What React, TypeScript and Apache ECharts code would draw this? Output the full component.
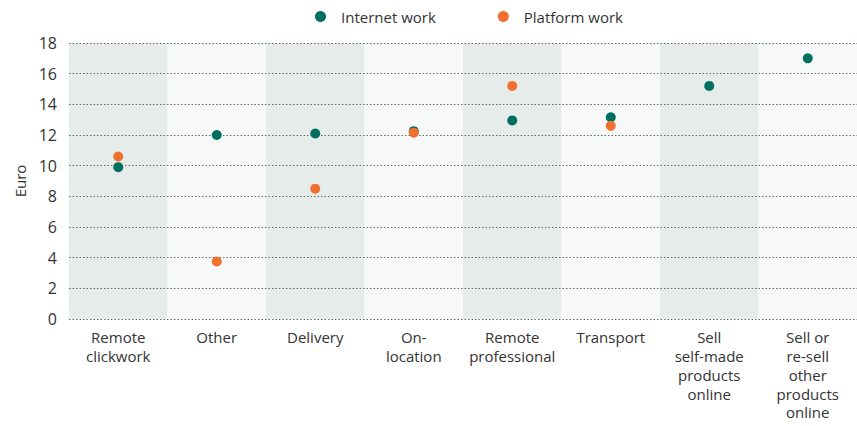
import React, { useEffect, useRef } from "react";
import * as echarts from "echarts";

const categories = [
  "Remote\nclickwork",
  "Other",
  "Delivery",
  "On-\nlocation",
  "Remote\nprofessional",
  "Transport",
  "Sell\nself-made\nproducts\nonline",
  "Sell or\nre-sell\nother\nproducts\nonline",
];
const internetWork = [9.9, 12.0, 12.1, 12.25, 12.95, 13.15, 15.2, 17.0];
const platformWork: (number | null)[] = [10.6, 3.75, 8.5, 12.15, 15.2, 12.6, null, null];
const yTicks = { min: 0, max: 18, interval: 2 };

const FONT = "'Open Sans', 'Noto Sans', sans-serif";

export default function App() {
  const ref = useRef<HTMLDivElement>(null);
  useEffect(() => {
    if (!ref.current) return;
    const chart = echarts.init(ref.current, undefined, { renderer: "svg" });
    chart.setOption({
      animation: false,
      textStyle: { fontFamily: FONT },
      legend: {
        top: 4,
        left: 310,
        itemGap: 62,
        itemWidth: 11,
        itemHeight: 11,
        icon: "circle",
        textStyle: { fontSize: 15, color: "#333", fontFamily: FONT, padding: [0, 0, 0, 10] },
        data: ["Internet work", "Platform work"],
      },
      grid: { left: 69, right: 0, top: 43, bottom: 107, containLabel: false },
      xAxis: {
        type: "category",
        z: 0,
        data: categories,
        axisLine: { show: false },
        axisTick: { show: false },
        axisLabel: {
          interval: 0,
          margin: 9,
          fontSize: 15,
          lineHeight: 18.75,
          color: "#333",
          fontFamily: FONT,
          verticalAlign: "top",
        },
        splitArea: { show: true, areaStyle: { color: ["#e6ecea", "#f7f9f8"] } },
        splitLine: { show: false },
      },
      yAxis: {
        type: "value",
        z: 1,
        min: yTicks.min,
        max: yTicks.max,
        interval: yTicks.interval,
        name: "Euro",
        nameLocation: "middle",
        nameGap: 42,
        nameRotate: 90,
        nameTextStyle: { fontSize: 15, color: "#333", fontFamily: FONT },
        axisLine: { show: false },
        axisTick: { show: false },
        axisLabel: { fontSize: 16, color: "#333", margin: 12, fontFamily: FONT },
        splitLine: { show: true, lineStyle: { type: [1.5, 2], color: "#666", width: 1.2 } },
      },
      series: [
        {
          name: "Internet work",
          type: "scatter",
          data: internetWork,
          symbolSize: 10,
          itemStyle: { color: "#006f5f", opacity: 1 },
          z: 2,
        },
        {
          name: "Platform work",
          type: "scatter",
          data: platformWork,
          symbolSize: 10,
          itemStyle: { color: "#f07030", opacity: 1 },
          z: 3,
        },
      ],
    });
    return () => chart.dispose();
  }, []);
  return (
    <div
      ref={ref}
      style={{ position: "absolute", left: 0, top: 0, width: 857, height: 426 }}
    />
  );
}
